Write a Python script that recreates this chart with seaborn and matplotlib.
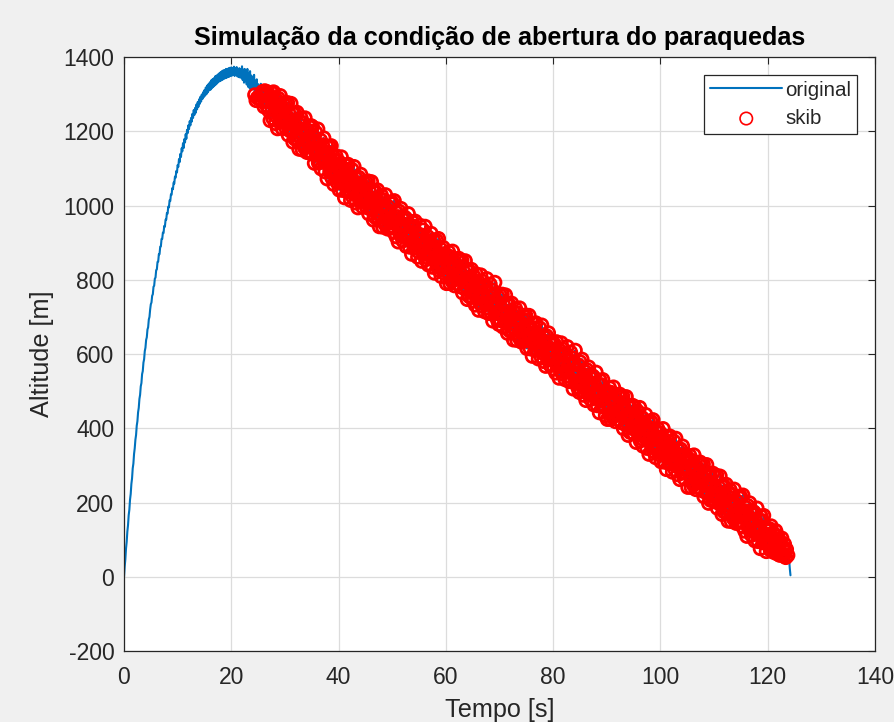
import numpy as np
import matplotlib
matplotlib.use("Agg")
import matplotlib.pyplot as plt
import seaborn as sns

# amostragem da simulacao
dt = 0.125  # s

# altitude simulada [m], uma linha = 5 s (40 amostras)
altitude = [
    0, 27, 47, 76, 94, 122, 139, 166, 181, 208, 223, 250, 265, 292, 305, 331, 346, 369, 382, 407,
    419, 443, 455, 479, 490, 513, 522, 546, 554, 577, 586, 608, 617, 638, 645, 666, 672, 693, 700, 720,
    734, 739, 757, 761, 781, 784, 803, 806, 826, 828, 848, 849, 869, 869, 889, 890, 910, 910, 927, 926,
    945, 943, 962, 962, 980, 978, 997, 995, 1014, 1012, 1030, 1029, 1047, 1044, 1062, 1059, 1078, 1075, 1093, 1089,
    1109, 1104, 1125, 1117, 1139, 1131, 1154, 1146, 1168, 1155, 1179, 1170, 1192, 1180, 1204, 1195, 1216, 1206, 1227, 1216,
    1236, 1226, 1247, 1236, 1257, 1244, 1263, 1250, 1272, 1259, 1279, 1266, 1286, 1274, 1293, 1280, 1299, 1287, 1305, 1292,
    1311, 1296, 1318, 1300, 1323, 1305, 1327, 1310, 1332, 1312, 1337, 1316, 1340, 1319, 1343, 1323, 1348, 1326, 1350, 1329,
    1353, 1333, 1356, 1335, 1359, 1337, 1362, 1339, 1364, 1341, 1365, 1343, 1368, 1344, 1367, 1346, 1370, 1347, 1371, 1349,
    1372, 1350, 1369, 1352, 1374, 1349, 1370, 1353, 1373, 1348, 1367, 1346, 1370, 1345, 1366, 1344,
    1375, 1338, 1366, 1331, 1368, 1335, 1364, 1326, 1368, 1320, 1355, 1317, 1362, 1312, 1350, 1314,
    1345, 1318, 1352, 1298, 1336, 1283, 1340, 1290,
    1327, 1288, 1314, 1296, 1328, 1297, 1281, 1307, 1297, 1266, 1309, 1281, 1301, 1269, 1306, 1280,
    1256, 1291, 1229, 1291, 1304, 1259, 1235, 1306, 1244, 1270, 1221, 1285, 1275, 1207, 1289, 1251,
    1225, 1296, 1236, 1267, 1208, 1253, 1272, 1223,
    1227, 1275, 1207, 1240, 1277, 1190, 1248, 1221, 1201, 1275, 1207, 1249, 1171, 1228, 1249, 1179,
    1215, 1189, 1251, 1178, 1220, 1152, 1226, 1196, 1236, 1178, 1150, 1223, 1200, 1157, 1236, 1161,
    1196, 1143, 1203, 1180, 1163, 1211, 1146, 1215,
    1139, 1212, 1154, 1184, 1114, 1170, 1197, 1136, 1151, 1206, 1115, 1164, 1120, 1176, 1099, 1145,
    1163, 1124, 1182, 1116, 1091, 1139, 1160, 1072, 1143, 1113, 1159, 1091, 1098, 1161, 1075, 1110,
    1132, 1057, 1114, 1079, 1134, 1085, 1062, 1108,
    1119, 1042, 1097, 1063, 1131, 1071, 1041, 1098, 1080, 1021, 1109, 1056, 1097, 1037, 1111, 1061, 1040, 1075, 1014, 1076,
    1097, 1045, 1020, 1105, 1030, 1057, 1007, 1072, 1061, 994, 1076, 1038, 1012, 1084, 1023, 1055, 996, 1041, 1060, 1010,
    1015, 1063, 995, 1028, 1066, 978, 1037, 1009, 990, 1064, 996, 1038, 961, 1017, 1039, 968, 1005, 979, 1042, 968,
    1010, 943, 1017, 987, 1027, 970, 942, 1015, 992, 950, 1029, 954, 989, 937, 997, 975, 958, 1006, 941, 1010,
    1006, 953, 929, 1013, 939, 965, 916, 980, 970, 902, 985, 946, 921, 992, 932, 963, 905, 949, 969, 919,
    966, 890, 944, 911, 978, 919, 888, 946, 927, 869, 956, 904, 944, 885, 958, 909, 887, 923, 861, 923,
    874, 947, 890, 920, 850, 906, 934, 873, 889, 944, 854, 903, 860, 916, 840, 886, 905, 866, 925, 859,
    834, 884, 905, 818, 889, 860, 906, 839, 846, 911, 825, 861, 883, 809, 866, 832, 887, 840, 817, 863,
    858, 790, 865, 834, 875, 817, 790, 862, 840, 797, 877, 801, 837, 784, 845, 822, 806, 853, 789, 858,
    801, 850, 781, 815, 852, 765, 823, 796, 776, 851, 782, 825, 747, 804, 825, 755, 791, 766, 828, 754,
    795, 743, 809, 772, 732, 816, 755, 779, 796, 718, 784, 738, 813, 753, 729, 796, 757, 779, 714, 784,
    738, 803, 725, 753, 709, 764, 788, 713, 732, 772, 689, 762, 723, 793, 709, 729, 742, 692, 753, 680,
    710, 758, 690, 723, 761, 673, 732, 704, 685, 759, 691, 733, 656, 712, 734, 663, 700, 674, 737, 663,
    705, 638, 712, 682, 722, 665, 637, 710, 687, 645, 724, 649, 684, 632, 692, 670, 653, 701, 636, 705,
    692, 615, 670, 636, 704, 644, 614, 671, 653, 594, 682, 629, 670, 610, 684, 634, 613, 648, 587, 649,
    670, 618, 593, 678, 603, 630, 580, 645, 634, 567, 649, 611, 585, 657, 596, 628, 569, 614, 633, 583,
    612, 560, 626, 589, 549, 633, 572, 596, 613, 535, 601, 555, 630, 570, 546, 613, 574, 596, 531, 601,
    555, 620, 542, 570, 526, 581, 605, 530, 549, 589, 506, 579, 540, 610, 526, 546, 559, 509, 570, 497,
    579, 526, 502, 586, 512, 538, 489, 553, 543, 475, 558, 519, 494, 565, 505, 536, 478, 522, 542, 492,
    539, 463, 517, 484, 551, 492, 461, 519, 500, 442, 529, 477, 517, 458, 531, 482, 460, 496, 434, 496,
    492, 424, 499, 468, 509, 451, 424, 496, 474, 431, 511, 435, 471, 418, 479, 456, 440, 487, 423, 492,
    435, 484, 415, 449, 486, 399, 457, 430, 410, 485, 416, 459, 381, 438, 459, 389, 425, 400, 462, 388,
    386, 459, 402, 432, 362, 418, 446, 385, 401, 456, 366, 415, 372, 428, 352, 398, 417, 378, 437, 371,
    346, 396, 417, 330, 401, 372, 418, 351, 358, 423, 337, 373, 395, 321, 378, 344, 399, 352, 329, 375,
    387, 310, 365, 331, 399, 339, 309, 366, 348, 289, 377, 324, 365, 305, 379, 329, 308, 343, 282, 344,
    365, 313, 288, 373, 298, 325, 275, 340, 329, 262, 344, 306, 280, 352, 291, 323, 264, 309, 328, 278,
    309, 241, 316, 285, 326, 268, 241, 313, 291, 248, 328, 252, 288, 235, 296, 273, 257, 304, 240, 309,
    252, 301, 232, 266, 303, 216, 274, 247, 227, 302, 233, 276, 198, 255, 276, 206, 242, 217, 279, 205,
    222, 270, 202, 235, 273, 185, 244, 216, 197, 271, 203, 245, 168, 224, 246, 175, 212, 186, 249, 175,
    217, 150, 224, 194, 234, 177, 149, 222, 199, 157, 236, 161, 196, 144, 204, 182, 165, 213, 148, 217,
    213, 160, 136, 220, 146, 172, 123, 187, 177, 109, 192, 153, 128, 199, 139, 170, 112, 156, 176, 126,
    173, 97, 151, 118, 185, 126, 95, 153, 134, 76, 163, 111, 151, 92, 165, 116, 94, 130, 68, 130,
    124, 90, 130, 101, 72, 137, 84, 108, 118, 66, 102, 70, 124, 80, 62, 110,
    84, 98, 58, 93, 65, 104, 61, 79, 56, 88, 67, 52, 74, 46, 58, 40,
    47, 22, 4,
]

x_ticks = [0, 20, 40, 60, 80, 100, 120, 140]
y_ticks = [-200, 0, 200, 400, 600, 800, 1000, 1200, 1400]

# condicao de abertura: depois do apogeu, X m abaixo dele, e acima do solo
queda_min = 65
alt_min = 50

altitude = np.array(altitude, dtype=float)
tempo = np.arange(len(altitude)) * dt
i_apogeu = int(np.argmax(altitude))
skib = (np.arange(len(altitude)) > i_apogeu) & (altitude < altitude.max() - queda_min) & (altitude > alt_min)

sns.set_style("white")
plt.rcParams["font.family"] = ["Liberation Sans", "DejaVu Sans"]
plt.rcParams["axes.unicode_minus"] = False
txt = "#262626"

fig = plt.figure(figsize=(8.94, 7.22), dpi=100, facecolor="#f0f0f0")
ax = fig.add_axes([0.1387, 0.0983, 0.8400, 0.8227])
ax.set_facecolor("white")

sns.lineplot(x=tempo, y=altitude, ax=ax, color="#0072BD", linewidth=1.5,
             sort=False, estimator=None, label="original")
sns.scatterplot(x=tempo[skib], y=altitude[skib], ax=ax, marker="o", s=80,
                facecolor="none", edgecolor="#ff0000", linewidth=2.0,
                label="skib", zorder=3)

ax.set_xlim(0, 140)
ax.set_ylim(-200, 1400)
ax.set_xticks(x_ticks)
ax.set_yticks(y_ticks)
ax.grid(True, color="#dcdcdc", linewidth=0.9)
ax.set_axisbelow(True)
ax.tick_params(direction="in", length=5, width=0.8, top=True, right=True,
               labelsize=16.5, colors=txt)
ax.tick_params(axis="x", pad=11)
ax.tick_params(axis="y", pad=7)
for s in ax.spines.values():
    s.set_color(txt)
    s.set_linewidth(0.9)

ax.set_title("Simulação da condição de abertura do paraquedas", fontsize=18.2,
             fontweight="bold", color="black", pad=9)
ax.set_xlabel("Tempo [s]", fontsize=18.2, color=txt, labelpad=6)
ax.set_ylabel("Altitude [m]", fontsize=18.2, color=txt, labelpad=7)

leg = ax.legend(loc="upper right", fontsize=14.8, frameon=True, fancybox=False,
                edgecolor=txt, framealpha=1, handlelength=3.5, borderaxespad=0.85,
                borderpad=0.3, labelspacing=0.45, handletextpad=0.15)
leg.get_frame().set_linewidth(0.9)
for h in leg.legend_handles[1:]:
    h.set_linewidth(1.2)

fig.savefig("out.png", dpi=100, facecolor=fig.get_facecolor())
